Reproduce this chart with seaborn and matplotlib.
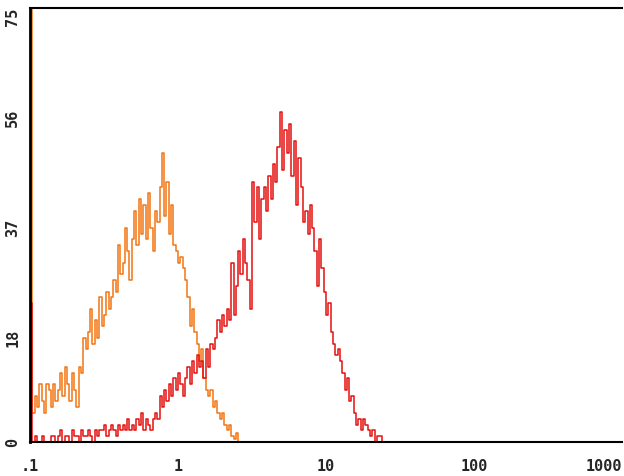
import matplotlib
matplotlib.use("Agg")
import matplotlib.pyplot as plt
import seaborn as sns
import numpy as np
import pandas as pd

# channel counts (256 log channels, 64 per decade from 0.1)
n_channels = 256
per_decade = 64

orange_counts = [
    90, 5, 8, 6, 10, 7, 5, 10, 9, 6, 10, 7, 9, 12, 8, 13, 10, 7, 12, 9,
    6, 13, 12, 18, 16, 19, 23, 17, 21, 18, 25, 20, 22, 26, 23, 25, 28, 26, 34, 29,
    31, 37, 33, 28, 35, 40, 34, 42, 36, 41, 35, 43, 37, 33, 40, 38, 44, 50, 39, 45,
    36, 41, 34, 33, 31, 32, 30, 28, 25, 20, 23, 19, 17, 14, 16, 11, 9, 8, 9, 6,
    7, 5, 4, 5, 3, 2, 3, 1, 0.5, 1.5, 0,
]

red_counts = [
    24, 0, 1, 0, 0, 1, 0, 0, 0, 1,
    1, 0, 1, 2, 0, 1, 1, 0, 2, 1, 1, 0, 2, 1, 1, 2, 1, 0, 2, 1, 2,
    2, 3, 1, 2, 3, 2, 1, 3, 2, 3, 2, 4, 2,
    3, 2, 4, 3, 5, 2, 4, 3, 2, 4,
    5, 4, 8, 6, 9,
    7, 10, 8, 11, 9, 12, 10, 8,
    11, 13, 10, 14, 12, 15, 13,
    14, 11, 16, 13, 17, 16,
    18, 21, 19, 22, 20, 23, 21, 31, 22,
    27, 33, 29, 35, 31, 28, 23,
    45, 38, 44, 35, 42,
    44, 40, 46, 42,
    48, 45, 51, 57, 47, 54, 50, 55,
    46, 52, 41, 49, 44,
    38, 40, 36, 41, 37,
    33, 27, 35, 30,
    26, 22, 24, 19,
    17, 15, 16, 14,
    12, 9, 11, 7, 8,
    5, 3, 4, 2, 4, 3,
    2, 1, 2, 0, 1, 1, 0,
]

y_ticks = [0, 18, 37, 56, 75]
x_ticks = [0.1, 1, 10, 100, 1000]
x_tick_labels = [".1", "1", "10", "100", "1000"]


def pad(counts):
    out = np.zeros(n_channels + 1)
    out[:len(counts)] = counts
    return out


channel = np.arange(n_channels + 1)
fluor = 0.1 * 10 ** (channel / per_decade)

df = pd.concat([
    pd.DataFrame({"fluor": fluor, "count": pad(orange_counts), "sample": "control"}),
    pd.DataFrame({"fluor": fluor, "count": pad(red_counts), "sample": "stained"}),
])

sns.set_style("white")
fig = plt.figure(figsize=(6.24, 4.76), dpi=100)
ax = fig.add_axes([30 / 624, (476 - 442) / 476, 592 / 624, (442 - 8) / 476])

sns.lineplot(data=df, x="fluor", y="count", hue="sample",
             palette={"control": "#f27512", "stained": "#e41010"},
             drawstyle="steps-post", linewidth=1.1, legend=False,
             estimator=None, sort=False, ax=ax)

ax.set_xscale("log")
ax.set_xlim(0.1, 1000)
ax.set_ylim(0, 75)
ax.set_xlabel("")
ax.set_ylabel("")

ax.set_xticks(x_ticks)
ax.set_xticklabels(x_tick_labels, fontfamily="DejaVu Sans Mono",
                   fontweight="bold", fontsize=11)
ax.get_xticklabels()[-1].set_ha("right")
ax.get_xticklabels()[-1].set_x(1000)
ax.xaxis.set_minor_locator(matplotlib.ticker.LogLocator(base=10, subs=np.arange(2, 10)))
ax.xaxis.set_minor_formatter(matplotlib.ticker.NullFormatter())
ax.tick_params(axis="x", which="major", direction="out", length=8, width=1.2,
               color="black", pad=4)
ax.tick_params(axis="x", which="minor", direction="out", length=6, width=1.0,
               color="black")

ax.set_yticks(y_ticks)
ax.set_yticklabels([str(v) for v in y_ticks], rotation=90, va="center",
                   fontfamily="DejaVu Sans Mono", fontweight="bold", fontsize=11)
ax.get_yticklabels()[-1].set_va("top")
ax.tick_params(axis="y", direction="out", length=4, width=1.2, color="black", pad=3)

for side in ["left", "bottom", "top"]:
    ax.spines[side].set_visible(True)
    ax.spines[side].set_color("black")
ax.spines["left"].set_linewidth(2)
ax.spines["bottom"].set_linewidth(1.5)
ax.spines["top"].set_linewidth(1.5)
ax.spines["right"].set_visible(False)

fig.savefig("out.png", dpi=100)
